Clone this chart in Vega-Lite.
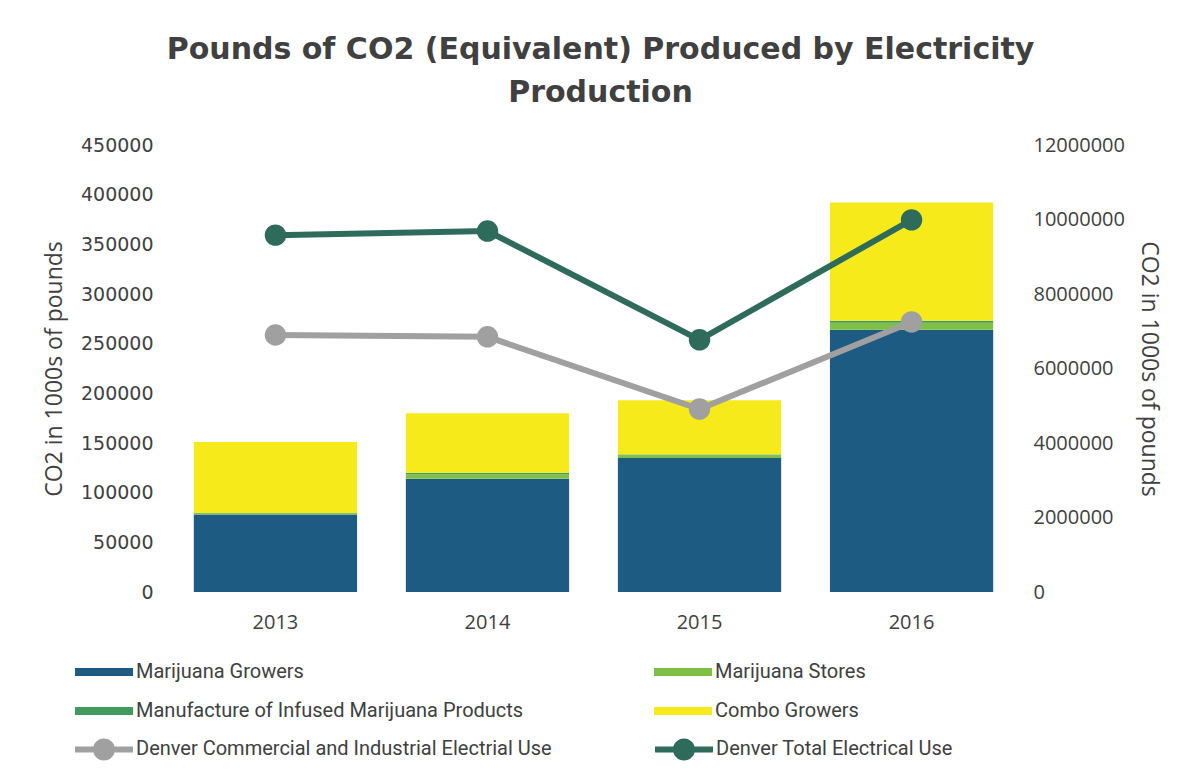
{
  "$schema": "https://vega.github.io/schema/vega-lite/v6.json",
  "width": 849,
  "height": 447,
  "autosize": {"type": "none"},
  "padding": {"left": 169, "top": 145, "right": 172, "bottom": 188},
  "background": "white",
  "title": {
    "text": ["Pounds of CO2 (Equivalent) Produced by Electricity", "Production"],
    "font": "DejaVu Sans",
    "fontSize": 30,
    "fontWeight": "bold",
    "color": "#404040",
    "anchor": "middle",
    "lineHeight": 43,
    "offset": 27,
    "dx": 7
  },
  "config": {
    "view": {"stroke": null},
    "axis": {
      "labelFont": "Open Sans",
      "labelFontSize": 20,
      "labelColor": "#404040",
      "titleFont": "Open Sans",
      "titleFontSize": 23,
      "titleFontWeight": "normal",
      "titleColor": "#404040",
      "grid": false,
      "ticks": false,
      "domain": false
    },
    "legend": {
      "labelFont": "Roboto",
      "labelFontSize": 20,
      "labelColor": "#404040"
    }
  },
  "datasets": {
    "bars": [
      {"year": "2013", "category": "Marijuana Growers", "k": 1, "value": 78000},
      {"year": "2013", "category": "Marijuana Stores", "k": 2, "value": 1000},
      {"year": "2013", "category": "Manufacture of Infused Marijuana Products", "k": 3, "value": 500},
      {"year": "2013", "category": "Combo Growers", "k": 4, "value": 71500},
      {"year": "2014", "category": "Marijuana Growers", "k": 1, "value": 114000},
      {"year": "2014", "category": "Marijuana Stores", "k": 2, "value": 4500},
      {"year": "2014", "category": "Manufacture of Infused Marijuana Products", "k": 3, "value": 1500},
      {"year": "2014", "category": "Combo Growers", "k": 4, "value": 60000},
      {"year": "2015", "category": "Marijuana Growers", "k": 1, "value": 135000},
      {"year": "2015", "category": "Marijuana Stores", "k": 2, "value": 2500},
      {"year": "2015", "category": "Manufacture of Infused Marijuana Products", "k": 3, "value": 800},
      {"year": "2015", "category": "Combo Growers", "k": 4, "value": 54700},
      {"year": "2016", "category": "Marijuana Growers", "k": 1, "value": 264000},
      {"year": "2016", "category": "Marijuana Stores", "k": 2, "value": 7000},
      {"year": "2016", "category": "Manufacture of Infused Marijuana Products", "k": 3, "value": 2000},
      {"year": "2016", "category": "Combo Growers", "k": 4, "value": 119000}
    ],
    "lines": [
      {"year": "2013", "series": "Denver Commercial and Industrial Electrial Use", "value": 6900000},
      {"year": "2014", "series": "Denver Commercial and Industrial Electrial Use", "value": 6850000},
      {"year": "2015", "series": "Denver Commercial and Industrial Electrial Use", "value": 4910000},
      {"year": "2016", "series": "Denver Commercial and Industrial Electrial Use", "value": 7250000},
      {"year": "2013", "series": "Denver Total Electrical Use", "value": 9580000},
      {"year": "2014", "series": "Denver Total Electrical Use", "value": 9690000},
      {"year": "2015", "series": "Denver Total Electrical Use", "value": 6770000},
      {"year": "2016", "series": "Denver Total Electrical Use", "value": 9990000}
    ]
  },
  "encoding": {
    "x": {
      "field": "year",
      "type": "ordinal",
      "scale": {"paddingInner": 0.23, "paddingOuter": 0.117},
      "axis": {"title": null, "labelAngle": 0, "labelPadding": 20}
    }
  },
  "layer": [
    {
      "data": {"name": "bars"},
      "mark": {"type": "bar"},
      "encoding": {
        "y": {
          "field": "value",
          "type": "quantitative",
          "stack": "zero",
          "scale": {"domain": [0, 450000], "nice": false},
          "axis": {
            "title": "CO2 in 1000s of pounds",
            "values": [0, 50000, 100000, 150000, 200000, 250000, 300000, 350000, 400000, 450000],
            "format": "d",
            "labelFont": "DejaVu Sans",
            "labelFontSize": 19,
            "labelPadding": 16,
            "titlePadding": 14
          }
        },
        "color": {
          "field": "category",
          "type": "nominal",
          "scale": {
            "domain": ["Marijuana Growers", "Manufacture of Infused Marijuana Products", "Marijuana Stores", "Combo Growers"],
            "range": ["#1e5b82", "#3f9a5c", "#7fbf45", "#f6ea1a"]
          },
          "legend": {
            "title": null,
            "orient": "none",
            "legendX": -94,
            "legendY": 498,
            "columns": 2,
            "columnPadding": 130,
            "rowPadding": -19,
            "symbolType": "M-1,-0.14L1,-0.14L1,0.14L-1,0.14Z",
            "symbolSize": 3364,
            "symbolStrokeWidth": 0,
            "labelOffset": 3,
            "labelLimit": 600
          }
        },
        "order": {"field": "k", "type": "quantitative"}
      }
    },
    {
      "data": {"name": "lines"},
      "layer": [
        {
          "mark": {"type": "line", "strokeWidth": 6},
          "encoding": {
            "y": {
              "field": "value",
              "type": "quantitative",
              "scale": {"domain": [0, 12000000], "nice": false},
              "axis": {
                "orient": "right",
                "title": "CO2 in 1000s of pounds",
                "values": [0, 2000000, 4000000, 6000000, 8000000, 10000000, 12000000],
                "format": "d",
                "labelPadding": 15,
                "titlePadding": 12
              }
            },
            "stroke": {
              "field": "series",
              "type": "nominal",
              "scale": {
                "domain": ["Denver Commercial and Industrial Electrial Use", "Denver Total Electrical Use"],
                "range": ["#a0a0a0", "#2f6b5b"]
              },
              "legend": {
                "title": null,
                "orient": "none",
                "legendX": -94,
                "legendY": 575,
                "columns": 2,
                "columnPadding": 103,
                "symbolType": "M-1,-0.1L1,-0.1L1,0.1L-1,0.1Z M0.38,0A0.38,0.38 0 1,1 -0.38,0A0.38,0.38 0 1,1 0.38,0Z",
                "symbolSize": 3364,
                "symbolStrokeWidth": 0,
                "labelOffset": 3,
                "labelLimit": 600,
                "encode": {
                  "symbols": {
                    "update": {
                      "fill": {"scale": "stroke", "field": "value"},
                      "strokeWidth": {"value": 0}
                    }
                  }
                }
              }
            }
          }
        },
        {
          "mark": {"type": "circle", "size": 460, "opacity": 1},
          "encoding": {
            "y": {"field": "value", "type": "quantitative"},
            "fill": {
              "field": "series",
              "type": "nominal",
              "scale": {
                "domain": ["Denver Commercial and Industrial Electrial Use", "Denver Total Electrical Use"],
                "range": ["#a0a0a0", "#2f6b5b"]
              },
              "legend": null
            }
          }
        }
      ]
    }
  ],
  "resolve": {"scale": {"y": "independent"}}
}
